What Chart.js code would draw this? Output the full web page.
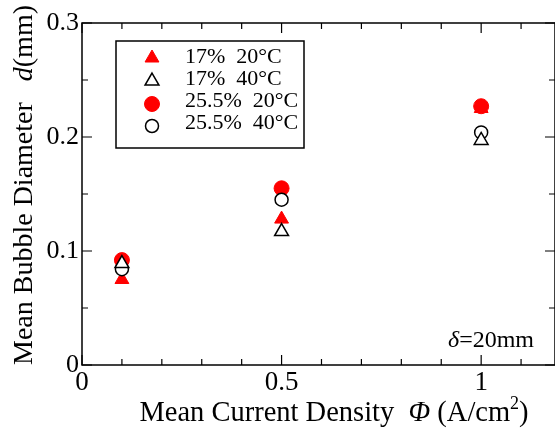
<!DOCTYPE html>
<html>
<head>
<meta charset="utf-8">
<script src="https://cdn.jsdelivr.net/npm/chart.js@4.4.1/dist/chart.umd.min.js"></script>
<style>
    body { margin: 0; background: #fff; }
</style>
</head>
<body>
<canvas id="myChart" width="555" height="433"></canvas>
<script>
// current density (A/cm2)
var currentDensity = [0.1, 0.5, 1.0];

// mean bubble diameter (mm)
var d17at20 = [0.075, 0.128, 0.225];
var d17at40 = [0.089, 0.117, 0.197];
var d255at20 = [0.092, 0.155, 0.227];
var d255at40 = [0.084, 0.145, 0.204];

var seriesLabels = ['17%  20°C', '17%  40°C', '25.5%  20°C', '25.5%  40°C'];

var xTickLabels = ['0', '0.5', '1'];
var yTickLabels = ['0', '0.1', '0.2', '0.3'];

var serif = "'Liberation Serif', 'Times New Roman', serif";

function toPoints(ys) {
    return currentDensity.map(function(x, i) { return { x: x, y: ys[i] }; });
}

// draws a line of text made of pieces with their own font
function drawPieces(ctx, pieces, cx, y) {
    var total = 0;
    pieces.forEach(function(p) {
        ctx.font = p.font;
        p.w = ctx.measureText(p.text).width;
        total += p.w;
    });
    var x = cx - total / 2;
    pieces.forEach(function(p) {
        ctx.font = p.font;
        ctx.fillText(p.text, x, y + (p.dy || 0));
        x += p.w;
    });
}

var frame = {
    id: 'frame',
    afterDraw: function(chart) {
        var ctx = chart.ctx;
        var a = chart.chartArea;
        var xs = chart.scales.x, ys = chart.scales.y;
        ctx.save();
        ctx.strokeStyle = '#000';
        ctx.lineWidth = 1.5;
        ctx.strokeRect(a.left, a.top, a.right - a.left, a.bottom - a.top);

        // inward ticks
        ctx.lineWidth = 1.2;
        ctx.beginPath();
        for (var i = 0; i <= 6; i++) {
            var v = i * 0.05;
            var py = ys.getPixelForValue(v);
            var len = (i % 2 === 0) ? 10 : 6;
            ctx.moveTo(a.left, py); ctx.lineTo(a.left + len, py);
            ctx.moveTo(a.right, py); ctx.lineTo(a.right - len, py);
        }
        for (var j = 0; j <= 11; j++) {
            var u = j * 0.1;
            var px = xs.getPixelForValue(u);
            var l = (j % 5 === 0) ? 10 : 6;
            ctx.moveTo(px, a.bottom); ctx.lineTo(px, a.bottom - l);
            ctx.moveTo(px, a.top); ctx.lineTo(px, a.top + l);
        }
        ctx.stroke();

        // axis titles
        ctx.fillStyle = '#000';
        ctx.textBaseline = 'alphabetic';
        drawPieces(ctx, [
            { text: 'Mean Current Density  ', font: '28.5px ' + serif },
            { text: 'Φ', font: 'italic 28.5px ' + serif },
            { text: ' (A/cm', font: '28.5px ' + serif },
            { text: '2', font: '18px ' + serif, dy: -12 },
            { text: ')', font: '28.5px ' + serif }
        ], 334, 421);

        ctx.save();
        ctx.translate(32, 185);
        ctx.rotate(-Math.PI / 2);
        drawPieces(ctx, [
            { text: 'Mean Bubble Diameter   ', font: '28px ' + serif },
            { text: 'd', font: 'italic 28px ' + serif },
            { text: '(mm)', font: '28px ' + serif }
        ], 0, 0);
        ctx.restore();

        // annotation
        ctx.font = 'italic 24px ' + serif;
        ctx.fillText('δ', 448, 347);
        var dw = ctx.measureText('δ').width;
        ctx.font = '24px ' + serif;
        ctx.fillText('=20mm', 448 + dw, 347);

        // legend box
        ctx.lineWidth = 1.5;
        ctx.strokeRect(116, 41, 188, 107);
        var markY = [58, 81, 104, 126];
        var textY = [57, 79, 101, 123];
        chart.data.datasets.forEach(function(ds, k) {
            var r = ds.pointRadius;
            ctx.fillStyle = ds.pointBackgroundColor;
            ctx.strokeStyle = ds.pointBorderColor;
            ctx.lineWidth = ds.pointBorderWidth;
            Chart.helpers.drawPoint(ctx, { pointStyle: ds.pointStyle, radius: r, borderWidth: ds.pointBorderWidth }, 152, markY[k]);
            ctx.fillStyle = '#000';
            ctx.font = '22px ' + serif;
            ctx.textBaseline = 'middle';
            ctx.fillText(ds.label, 185, textY[k]);
        });
        ctx.restore();
    }
};

var config = {
    type: 'scatter',
    data: {
        datasets: [{
            label: seriesLabels[0],
            data: toPoints(d17at20),
            pointStyle: 'triangle',
            pointRadius: 8,
            pointBackgroundColor: '#ff0000',
            pointBorderColor: '#ff0000',
            pointBorderWidth: 1,
            order: 4
        }, {
            label: seriesLabels[1],
            data: toPoints(d17at40),
            pointStyle: 'triangle',
            pointRadius: 8,
            pointBackgroundColor: '#ffffff',
            pointBorderColor: '#000000',
            pointBorderWidth: 1.5,
            order: 1
        }, {
            label: seriesLabels[2],
            data: toPoints(d255at20),
            pointStyle: 'circle',
            pointRadius: 7.5,
            pointBackgroundColor: '#ff0000',
            pointBorderColor: '#ff0000',
            pointBorderWidth: 1,
            order: 3
        }, {
            label: seriesLabels[3],
            data: toPoints(d255at40),
            pointStyle: 'circle',
            pointRadius: 6.5,
            pointBackgroundColor: '#ffffff',
            pointBorderColor: '#000000',
            pointBorderWidth: 1.5,
            order: 2
        }]
    },
    options: {
        responsive: false,
        animation: false,
        layout: {
            autoPadding: false,
            padding: { top: 23, right: 0, left: 0, bottom: 0 }
        },
        plugins: {
            legend: { display: false },
            tooltip: { enabled: false }
        },
        scales: {
            x: {
                type: 'linear',
                min: 0,
                max: 1.185,
                afterFit: function(scale) { scale.height = 68; },
                afterBuildTicks: function(scale) {
                    scale.ticks = xTickLabels.map(function(t) { return { value: parseFloat(t) }; });
                },
                grid: { display: false, drawTicks: false },
                border: { display: false },
                ticks: {
                    padding: 2,
                    color: '#000',
                    font: { family: serif, size: 27 },
                    callback: function(v) { return xTickLabels[xTickLabels.indexOf(String(v))] || String(v); }
                }
            },
            y: {
                min: 0,
                max: 0.3,
                afterFit: function(scale) { scale.width = 82; },
                afterBuildTicks: function(scale) {
                    scale.ticks = yTickLabels.map(function(t) { return { value: parseFloat(t) }; });
                },
                grid: { display: false, drawTicks: false },
                border: { display: false },
                ticks: {
                    padding: 3,
                    color: '#000',
                    font: { family: serif, size: 26 },
                    callback: function(v) { return yTickLabels[yTickLabels.indexOf(String(v))] || String(v); }
                }
            }
        }
    },
    plugins: [frame]
};

window.onload = function() {
    var ctx = document.getElementById('myChart').getContext('2d');
    window.myScatter = new Chart(ctx, config);
};
</script>
</body>
</html>
